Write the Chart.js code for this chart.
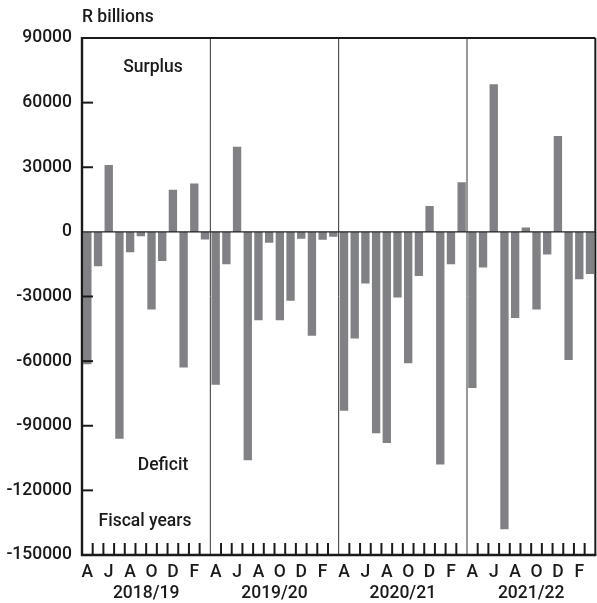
<!DOCTYPE html>
<html>
<head>
<meta charset="utf-8">
<script src="https://cdn.jsdelivr.net/npm/chart.js@4/dist/chart.umd.min.js"></script>
<style>
  html, body { margin: 0; padding: 0; background: #fff; }
  #wrap { position: relative; width: 597px; height: 603px; }
</style>
</head>
<body>
<div id="wrap"><canvas id="balance-chart"></canvas></div>
<script>
// fiscal year months, April to March
const months = ["A", "M", "J", "J", "A", "S", "O", "N", "D", "J", "F", "M"];
const fiscalYears = ["2018/19", "2019/20", "2020/21", "2021/22"];

// monthly budget balance, R millions
const fy2018 = [-61500, -16000, 31000, -96000, -9500, -2000, -36000, -13500, 19500, -63000, 22500, -3500];
const fy2019 = [-71000, -15000, 39500, -106000, -41000, -5000, -41000, -32000, -3200, -48200, -3600, -2300];
const fy2020 = [-83000, -49500, -24000, -93500, -98000, -30500, -61000, -20500, 12000, -108000, -15000, 23000];
const fy2021 = [-72500, -16500, 68500, -138000, -40000, 2000, -36000, -10500, 44500, -59500, -22000, -19500];

const yTicks = [90000, 60000, 30000, 0, -30000, -60000, -90000, -120000, -150000];

const labels = [];
fiscalYears.forEach(() => months.forEach(m => labels.push(m)));
const values = [].concat(fy2018, fy2019, fy2020, fy2021);

const FONT = "Roboto, 'Liberation Sans', Arial, sans-serif";
const WEIGHT = 500;
const SIZE = 17.5;
const ink = "#1a1a1a";

const frame = {
  id: "frame",
  afterDatasetsDraw(chart) {
    const { ctx, chartArea: a, scales: { x, y } } = chart;
    const slot = x.getPixelForValue(1) - x.getPixelForValue(0);
    const line = (x1, y1, x2, y2, w, c) => {
      ctx.beginPath();
      ctx.lineWidth = w;
      ctx.strokeStyle = c;
      ctx.moveTo(x1, y1);
      ctx.lineTo(x2, y2);
      ctx.stroke();
    };
    ctx.save();
    // zero line
    const y0 = y.getPixelForValue(0);
    line(a.left, y0, a.right, y0, 1.3, "#222");
    // month boundaries: year dividers full height, others short ticks
    for (let i = 1; i < labels.length; i++) {
      const px = x.getPixelForValue(i) - slot / 2;
      if (i % 12 === 0) line(px, a.top, px, a.bottom, 1, "#333");
      else line(px, a.bottom, px, a.bottom - 12, 2, ink);
    }
    // inward y ticks
    yTicks.forEach(v => {
      if (v === 0 || v === yTicks[0] || v === yTicks[yTicks.length - 1]) return;
      const py = y.getPixelForValue(v);
      line(a.left, py, a.left + 11, py, 2, ink);
    });
    // frame
    line(a.left - 1, a.top, a.right, a.top, 2.2, ink);
    line(a.right, a.top, a.right, a.bottom, 2, ink);
    line(a.left, a.top - 1, a.left, a.bottom + 1, 2.4, ink);
    line(a.left - 1, a.bottom, a.right + 1, a.bottom, 2.4, ink);

    // texts
    ctx.fillStyle = ink;
    ctx.font = WEIGHT + " " + SIZE + "px " + FONT;
    ctx.textBaseline = "middle";
    ctx.textAlign = "left";
    ctx.fillText("R billions", a.left, 18);
    ctx.textAlign = "center";
    ctx.fillText("Surplus", a.left + 71, 68);
    ctx.fillText("Deficit", a.left + 81, 466);
    ctx.fillText("Fiscal years", a.left + 63, 522);
    ctx.restore();
  }
};

const tickFont = { family: FONT, size: SIZE, weight: WEIGHT };

const config = {
  type: "bar",
  data: {
    labels: labels,
    datasets: [
      {
        data: values,
        backgroundColor: "#808185",
        borderWidth: 0,
        barPercentage: 0.78,
        categoryPercentage: 1.0,
        xAxisID: "x",
      },
    ],
  },
  options: {
    responsive: true,
    maintainAspectRatio: false,
    animation: false,
    layout: { padding: { top: 38, right: 1, left: 0, bottom: 0 } },
    plugins: { legend: { display: false }, tooltip: { enabled: false } },
    scales: {
      y: {
        min: -150000,
        max: 90000,
        afterFit: s => { s.width = 82; },
        afterBuildTicks: s => { s.ticks = yTicks.map(v => ({ value: v })); },
        grid: { display: false, drawTicks: false },
        border: { display: false },
        ticks: {
          color: ink,
          padding: 10,
          font: tickFont,
          callback: v => String(v),
        },
      },
      x: {
        type: "category",
        offset: true,
        weight: 0,
        afterFit: s => { s.height = 28; },
        grid: { display: false, drawTicks: false },
        border: { display: false },
        ticks: {
          autoSkip: false,
          maxRotation: 0,
          padding: 7,
          color: ink,
          font: tickFont,
          callback: (v, i) => (i % 2 === 0 ? labels[i] : ""),
        },
      },
      years: {
        type: "category",
        position: "bottom",
        labels: fiscalYears,
        offset: true,
        weight: 1,
        afterFit: s => { s.height = 20; },
        grid: { display: false, drawTicks: false },
        border: { display: false },
        ticks: {
          padding: 0,
          color: ink,
          font: tickFont,
        },
      },
    },
  },
  plugins: [frame],
};

const ctx = document.getElementById("balance-chart").getContext("2d");
window.balanceChart = new Chart(ctx, config);
</script>
</body>
</html>
